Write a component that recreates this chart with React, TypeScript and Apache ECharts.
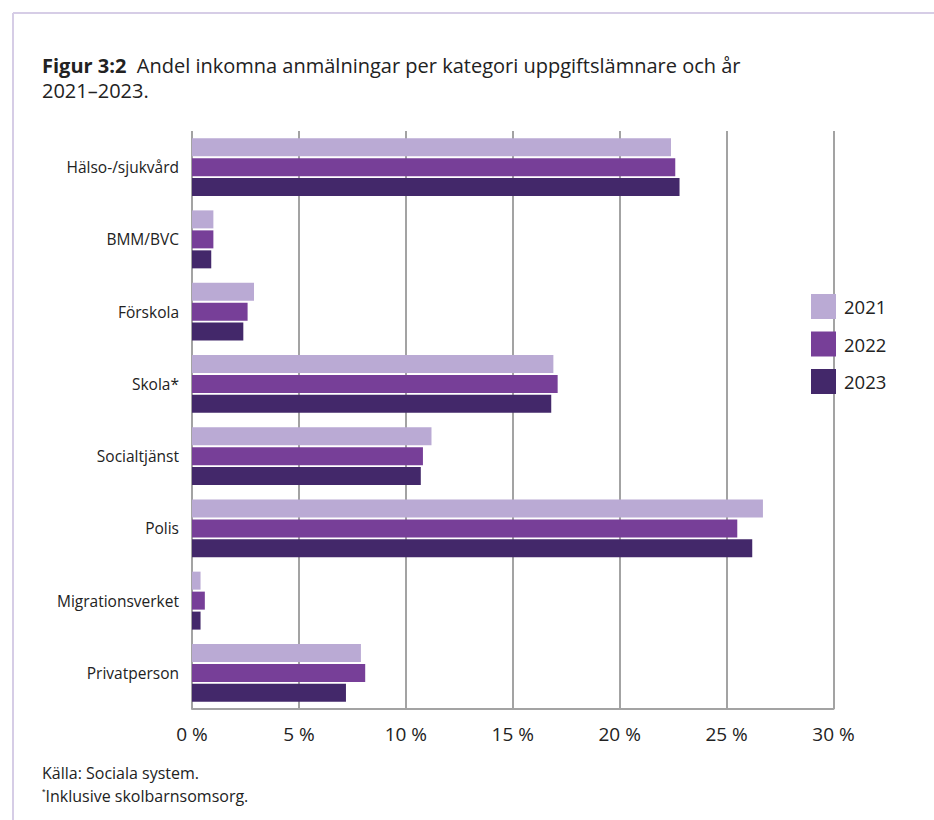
import React, { useEffect, useRef } from "react";
import * as echarts from "echarts";

const categories = [
  "Hälso-/sjukvård",
  "BMM/BVC",
  "Förskola",
  "Skola*",
  "Socialtjänst",
  "Polis",
  "Migrationsverket",
  "Privatperson",
];
const years = ["2021", "2022", "2023"];
const values2021 = [22.4, 1.0, 2.9, 16.9, 11.2, 26.7, 0.4, 7.9];
const values2022 = [22.6, 1.0, 2.6, 17.1, 10.8, 25.5, 0.6, 8.1];
const values2023 = [22.8, 0.9, 2.4, 16.8, 10.7, 26.2, 0.4, 7.2];
const colors = ["#baaad4", "#773f98", "#43286a"];
const xTicks = { min: 0, max: 30, interval: 5 };

const FONT = "'Open Sans', 'Noto Sans', sans-serif";

export default function App() {
  const ref = useRef<HTMLDivElement>(null);
  useEffect(() => {
    if (!ref.current) return;
    const chart = echarts.init(ref.current, undefined, { renderer: "svg" });
    const seriesData = [values2021, values2022, values2023];
    chart.setOption({
      animation: false,
      backgroundColor: "#ffffff",
      textStyle: { fontFamily: FONT },
      title: {
        left: 37,
        top: 48,
        text: "{b|Figur 3:2}  Andel inkomna anmälningar per kategori uppgiftslämnare och år\n2021–2023.",
        textStyle: {
          fontFamily: FONT,
          fontSize: 20,
          fontWeight: "normal",
          color: "#222222",
          lineHeight: 25,
          rich: {
            b: { fontFamily: FONT, fontSize: 20, fontWeight: "bold", color: "#222222" },
          },
        },
      },
      legend: {
        orient: "vertical",
        left: 806,
        top: 289,
        itemWidth: 25,
        itemHeight: 25,
        itemGap: 12.5,
        icon: "rect",
        data: years,
        textStyle: { fontFamily: FONT, fontSize: 18.5, color: "#222222", padding: [0, 0, 0, 3] },
      },
      grid: { left: 192, right: 100.5, top: 131, bottom: 111, containLabel: false },
      xAxis: {
        type: "value",
        min: xTicks.min,
        max: xTicks.max,
        interval: xTicks.interval,
        axisLine: { show: true, lineStyle: { color: "#a3a3a3", width: 2 } },
        axisTick: { show: false },
        splitLine: { show: true, lineStyle: { color: "#a3a3a3", width: 2 } },
        axisLabel: {
          formatter: "{value} %",
          fontFamily: FONT,
          fontSize: 19,
          color: "#222222",
          margin: 15,
        },
      },
      yAxis: {
        type: "category",
        data: categories,
        inverse: true,
        axisLine: { show: false },
        axisTick: { show: false },
        splitLine: { show: false },
        axisLabel: { fontFamily: FONT, fontSize: 15.5, color: "#222222", margin: 13 },
      },
      series: years.map((y, i) => ({
        name: y,
        type: "bar",
        data: seriesData[i],
        barWidth: 18,
        barGap: "11%",
        itemStyle: { color: colors[i] },
      })),
      graphic: [
        {
          type: "line",
          shape: { x1: 13, y1: 13, x2: 934, y2: 13 },
          style: { stroke: "#d6cde6", lineWidth: 2 },
        },
        {
          type: "line",
          shape: { x1: 13, y1: 13, x2: 13, y2: 820 },
          style: { stroke: "#d6cde6", lineWidth: 2 },
        },
        {
          type: "text",
          left: 42,
          top: 765,
          style: {
            text: "Källa: Sociala system.",
            fontFamily: FONT,
            fontSize: 16,
            fill: "#222222",
          },
        },
        {
          type: "text",
          left: 42,
          top: 787,
          style: {
            text: "{s|*}Inklusive skolbarnsomsorg.",
            fontFamily: FONT,
            fontSize: 16,
            fill: "#222222",
            rich: { s: { fontSize: 9, verticalAlign: "top", padding: [0, 0, 9, 0] } },
          },
        },
      ],
    });
    return () => chart.dispose();
  }, []);
  return (
    <div
      ref={ref}
      style={{ position: "absolute", left: 0, top: 0, width: 934, height: 820 }}
    />
  );
}
